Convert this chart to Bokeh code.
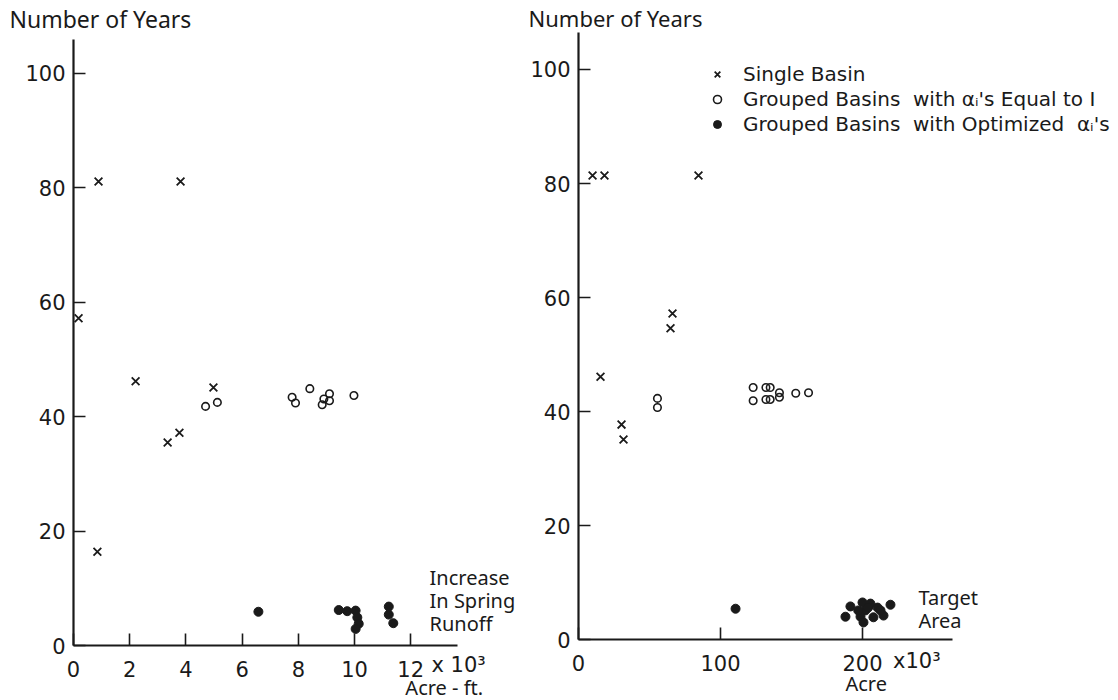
from bokeh.plotting import figure
from bokeh.models import Range1d, Label, Legend, LegendItem, FixedTicker, LinearAxis
from bokeh.layouts import row
from bokeh.embed import file_html
from bokeh.resources import INLINE

FONT = "Noto Sans"
TICK_FONT = "DejaVu Sans"
INK = "#1a1a1a"

# ---------------- Left panel: Increase in Spring Runoff (10^3 acre-ft) ----------------
left_single_x = [0.89, 3.81, 0.18, 2.21, 3.35, 3.77, 4.98, 0.85]
left_single_y = [81.1, 81.1, 57.2, 46.2, 35.5, 37.2, 45.1, 16.4]

left_equal_x = [4.70, 5.12, 7.78, 7.90, 8.41, 8.85, 8.91, 9.11, 9.11, 9.98]
left_equal_y = [41.8, 42.5, 43.4, 42.4, 44.9, 42.1, 43.1, 44.0, 42.8, 43.7]

left_opt_x = [6.58, 9.44, 9.74, 10.04, 10.10, 10.15, 10.04, 11.22, 11.22, 11.38]
left_opt_y = [5.9, 6.2, 6.0, 6.1, 4.9, 3.8, 2.9, 6.8, 5.4, 3.9]

left_xticks = [0, 2, 4, 6, 8, 10, 12]

# ---------------- Right panel: Target Area (10^3 acre) ----------------
right_single_x = [9.9, 18.3, 84.5, 15.5, 30.3, 31.7, 66.2, 64.8]
right_single_y = [81.4, 81.4, 81.4, 46.1, 37.7, 35.1, 57.2, 54.6]

right_equal_x = [55.6, 55.6, 123, 123, 132, 135, 132, 135, 141.5, 141.5, 153, 162]
right_equal_y = [42.3, 40.7, 44.2, 41.9, 44.2, 44.2, 42.1, 42.1, 43.3, 42.5, 43.2, 43.3]

right_opt_x = [110.6, 191.5, 188, 200, 205.6, 210.6, 202, 198.6, 207.7, 214.8, 219.7,
               200.7, 204, 212.7, 197]
right_opt_y = [5.4, 5.8, 4.0, 6.5, 6.3, 5.6, 5.1, 4.0, 3.9, 4.2, 6.1, 3.0, 5.6, 5.1, 5.1]

right_xticks = [0, 100, 200]
yticks = [0, 20, 40, 60, 80, 100]

legend_labels = ["Single Basin",
                 "Grouped Basins  with \u03b1\u1d62's Equal to I",
                 "Grouped Basins  with Optimized  \u03b1\u1d62's"]


def make_fig(width, xr, yr, xbounds, ybounds, xticks):
    p = figure(width=width, height=700, output_backend="svg", toolbar_location=None,
               x_range=Range1d(*xr), y_range=Range1d(*yr),
               x_axis_location=None, y_axis_location=None, min_border=0)
    p.grid.visible = False
    p.outline_line_color = None
    p.background_fill_color = "white"
    p.border_fill_color = "white"
    yax = LinearAxis(fixed_location=0, bounds=ybounds, ticker=FixedTicker(ticks=yticks))
    xax = LinearAxis(fixed_location=0, bounds=xbounds, ticker=FixedTicker(ticks=xticks))
    for ax in (xax, yax):
        ax.axis_line_width = 2.2
        ax.axis_line_color = INK
        ax.major_tick_in = 12
        ax.major_tick_out = 0
        ax.major_tick_line_width = 1.6
        ax.major_tick_line_color = INK
        ax.minor_tick_line_color = None
        ax.major_label_text_font = TICK_FONT
        ax.major_label_text_font_size = "21px"
        ax.major_label_text_color = INK
    yax.major_label_standoff = 8
    xax.major_label_standoff = 15
    p.add_layout(yax, "left")
    p.add_layout(xax, "below")
    return p


def add_points(p, sx, sy, ex, ey, ox, oy):
    r1 = p.scatter(sx, sy, marker="x", size=11, line_width=1.8, line_color=INK)
    r2 = p.scatter(ex, ey, marker="circle", size=7.5, line_width=1.6,
                   line_color=INK, fill_color=None)
    r3 = p.scatter(ox, oy, marker="circle", size=9, line_color=INK, fill_color=INK)
    return r1, r2, r3


def lab(p, x, y, text, size="20px", align="left", font=FONT):
    p.add_layout(Label(x=x, y=y, text=text, text_font=font, text_font_size=size,
                       text_color=INK, text_align=align, text_baseline="middle"))


# Left figure: canvas x 0..525 px
p1 = make_fig(525, (-2.598, 16.085), (-9.615, 112.76), (0, 13.67), (0, 106), left_xticks)
add_points(p1, left_single_x, left_single_y, left_equal_x, left_equal_y,
           left_opt_x, left_opt_y)
lab(p1, -2.28, 109.6, "Number of Years", "23px")
lab(p1, 12.67, 11.9, "Increase")
lab(p1, 12.67, 7.9, "In Spring")
lab(p1, 12.67, 3.85, "Runoff")
lab(p1, 12.74, -3.4, "x 10\u00b3", "21px", font=TICK_FONT)
lab(p1, 11.81, -7.34, "Acre - ft.")

# Right figure: canvas x 525..1118 px
p2 = make_fig(593, (-37.32, 380.28), (-10.70, 112.105), (0, 263.4), (0, 106.5), right_xticks)
r1, r2, r3 = add_points(p2, right_single_x, right_single_y, right_equal_x, right_equal_y,
                        right_opt_x, right_opt_y)
lab(p2, -35.2, 109.1, "Number of Years", "22px")
lab(p2, 239.4, 7.4, "Target")
lab(p2, 239.4, 3.3, "Area")
lab(p2, 221.5, -3.8, "x10\u00b3", "21px", font=TICK_FONT)
lab(p2, 188, -7.7, "Acre")

legend = Legend(items=[LegendItem(label=legend_labels[0], renderers=[r1]),
                       LegendItem(label=legend_labels[1], renderers=[r2]),
                       LegendItem(label=legend_labels[2], renderers=[r3])],
                location=(182, 564), orientation="vertical",
                glyph_width=20, glyph_height=20, label_standoff=16, spacing=1,
                padding=0, margin=0, border_line_color=None, background_fill_alpha=0,
                label_text_font=TICK_FONT, label_text_font_size="20px",
                label_text_color=INK)
p2.add_layout(legend)

layout = row(p1, p2)
open("out.html", "w").write(file_html(layout, INLINE))
